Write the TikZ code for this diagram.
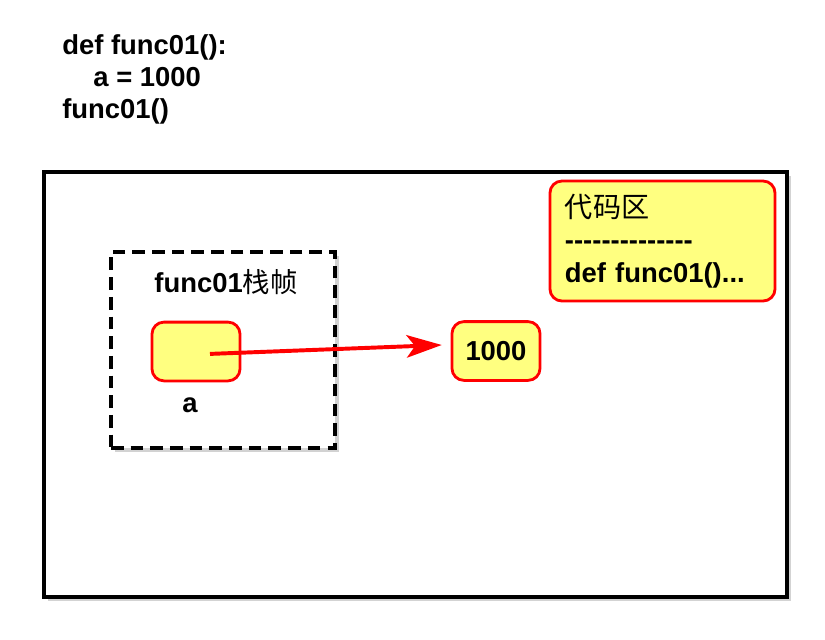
\documentclass[tikz,border=0pt]{standalone}
\usepackage{fontspec}
\setmainfont{Liberation Sans}
\newfontfamily\cjkfont{Noto Sans CJK SC}
\usetikzlibrary{arrows.meta,shadows,positioning}
\definecolor{cellyellow}{RGB}{255,255,128}
\definecolor{cellred}{RGB}{255,0,0}
\tikzset{%
    >={Stealth[width=16pt,length=25pt,inset=6pt]},
    base/.style = {
        rectangle, rounded corners=0.3cm, draw=cellred, line width=2pt,
        fill=cellyellow, font=\bfseries\fontsize{19.5}{23}\selectfont
    },
    cell/.style = {base, minimum width=2.2cm, minimum height=1.47cm},
    frame/.style = {
        rectangle, draw=black, fill=white, line width=2.8pt,
        drop shadow={shadow xshift=3pt, shadow yshift=-3pt, opacity=0.35}
    },
    caption/.style = {font=\bfseries\fontsize{19.5}{23}\selectfont},
}

\begin{document}
\begin{tikzpicture}[x=0.025cm, y=-0.025cm]
        \useasboundingbox (0,0) rectangle (825,640);
        % Nodes position
        \node (source) [caption, anchor=north west, inner sep=0pt,
                align=left] at (62,34)
            {def func01():\\\hspace{0.78cm}a = 1000\\func01()};

        \node (memory)  [frame, minimum width=18.575cm,
                minimum height=10.625cm] at (415.5,384.5) {};
        \node (stack)   [frame, dashed, dash pattern=on 9pt off 5pt,
                minimum width=5.6cm, minimum height=4.9cm] at (223,350) {};
        \node (stackname) [caption] at (226,282)
            {func01{\cjkfont\mdseries 栈帧}};

        \node (varbox)  [cell] at (196,351.5) {};
        \node (varname) [caption, below=0.25cm of varbox, xshift=-0.15cm] {a};
        \node (valbox)  [cell] at (496,351) {1000};

        \node (codearea) [base, minimum width=5.625cm, minimum height=3cm,
                text width=4.875cm, align=left, inner xsep=0.375cm]
                at (662.5,241)
            {{\cjkfont\mdseries\fontsize{20}{23}\selectfont 代码区}\\
             -{}-{}-{}-{}-{}-{}-{}-{}-{}-{}-{}-{}-{}-\\
             def func01()...};
        % Arrow specification
        \draw[->, draw=cellred, fill=cellred, line width=2.8pt]
            ([xshift=0.35cm,yshift=-0.06cm]varbox.center)
            -- ([xshift=-0.22cm,yshift=0.15cm]valbox.west);
    \end{tikzpicture}
\end{document}
